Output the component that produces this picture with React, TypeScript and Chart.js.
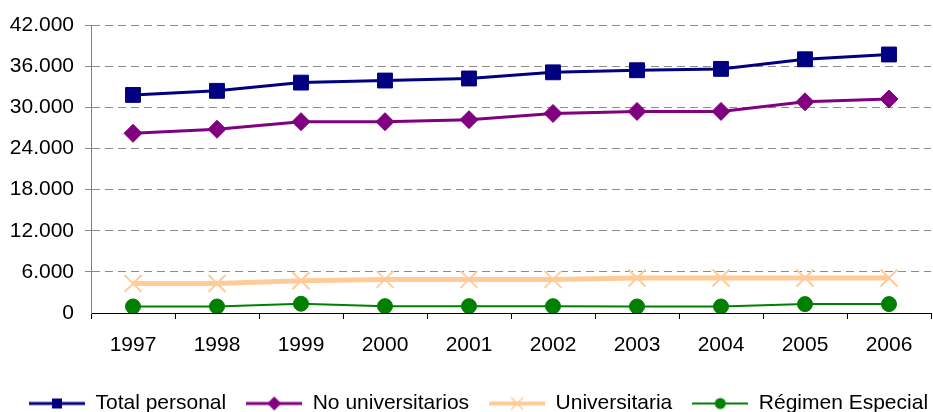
import React, { useEffect, useRef } from "react";
import { Chart, registerables } from "chart.js";

Chart.register(...registerables);

const years = ["1997", "1998", "1999", "2000", "2001", "2002", "2003", "2004", "2005", "2006"];
const totalPersonal = [31800, 32400, 33600, 33900, 34200, 35100, 35400, 35600, 37000, 37700];
const noUniversitarios = [26200, 26800, 27900, 27900, 28200, 29100, 29400, 29400, 30800, 31200];
const universitaria = [4300, 4300, 4700, 4900, 4900, 4900, 5100, 5100, 5100, 5100];
const regimenEspecial = [950, 950, 1350, 1000, 1000, 1000, 950, 950, 1300, 1300];
const yTickValues = [0, 6000, 12000, 18000, 24000, 30000, 36000, 42000];

const FONT = "'Liberation Sans', Arial, sans-serif";

function fmt(v: number): string {
  if (v === 0) return "0";
  const s = String(Math.round(v));
  return s.replace(/\B(?=(\d{3})+(?!\d))/g, ".");
}

function makeIcon(color: string, lw: number, kind: string): HTMLCanvasElement {
  const c = document.createElement("canvas");
  c.width = 56;
  c.height = 20;
  const ctx = c.getContext("2d")!;
  const cy = 10;
  const cx = 28;
  ctx.strokeStyle = color;
  ctx.fillStyle = color;
  ctx.lineWidth = lw;
  ctx.beginPath();
  ctx.moveTo(0, cy);
  ctx.lineTo(56, cy);
  ctx.stroke();
  ctx.beginPath();
  if (kind === "rect") {
    ctx.fillRect(cx - 5, cy - 5, 10, 10);
  } else if (kind === "diamond") {
    ctx.moveTo(cx, cy - 7);
    ctx.lineTo(cx + 7, cy);
    ctx.lineTo(cx, cy + 7);
    ctx.lineTo(cx - 7, cy);
    ctx.closePath();
    ctx.fill();
  } else if (kind === "x") {
    ctx.lineWidth = 1.5;
    ctx.moveTo(cx - 6, cy - 6);
    ctx.lineTo(cx + 6, cy + 6);
    ctx.moveTo(cx + 6, cy - 6);
    ctx.lineTo(cx - 6, cy + 6);
    ctx.stroke();
  } else {
    ctx.arc(cx, cy, 5.5, 0, Math.PI * 2);
    ctx.fill();
  }
  return c;
}

const legendShift = {
  id: "legendShift",
  afterLayout(chart: any) {
    const l = chart.legend;
    if (l) {
      l.left += 8;
      l.right += 8;
    }
  },
};

export default function App() {
  const ref = useRef<HTMLCanvasElement | null>(null);

  useEffect(() => {
    document.body.style.margin = "0";
    document.body.style.overflow = "hidden";
    const canvas = ref.current;
    if (!canvas) return;

    const icons = [
      makeIcon("#000080", 3, "rect"),
      makeIcon("#800080", 3, "diamond"),
      makeIcon("#FFCC99", 4, "x"),
      makeIcon("#008000", 2, "circle"),
    ];

    const chart = new Chart(canvas, {
      type: "line",
      data: {
        labels: years,
        datasets: [
          {
            label: "Total personal",
            data: totalPersonal,
            borderColor: "#000080",
            backgroundColor: "#000080",
            borderWidth: 3,
            pointStyle: "rect",
            pointRadius: 10.5,
            pointBorderWidth: 1,
            tension: 0,
          },
          {
            label: "No universitarios",
            data: noUniversitarios,
            borderColor: "#800080",
            backgroundColor: "#800080",
            borderWidth: 3,
            pointStyle: "rectRot",
            pointRadius: 9,
            pointBorderWidth: 1,
            tension: 0,
          },
          {
            label: "Universitaria",
            data: universitaria,
            borderColor: "#FFCC99",
            backgroundColor: "#FFCC99",
            borderWidth: 5,
            pointStyle: "crossRot",
            pointRadius: 12,
            pointBorderWidth: 2,
            tension: 0,
          },
          {
            label: "Régimen Especial",
            data: regimenEspecial,
            borderColor: "#008000",
            backgroundColor: "#008000",
            borderWidth: 2,
            pointStyle: "circle",
            pointRadius: 7.5,
            pointBorderWidth: 1,
            tension: 0,
          },
        ],
      },
      options: {
        responsive: false,
        animation: false,
        devicePixelRatio: 1,
        layout: { padding: { top: 25, left: 0, right: 4, bottom: -12 } },
        plugins: {
          tooltip: { enabled: false },
          legend: {
            position: "bottom",
            labels: {
              usePointStyle: true,
              pointStyleWidth: 56,
              padding: 20,
              color: "#000",
              font: { family: FONT, size: 21 },
              generateLabels: (ch: any) => {
                const items = (Chart.defaults.plugins.legend.labels as any).generateLabels(ch);
                items.forEach((it: any, i: number) => {
                  it.pointStyle = icons[i];
                });
                return items;
              },
            },
          },
        },
        scales: {
          x: {
            offset: true,
            grid: {
              offset: true,
              drawOnChartArea: false,
              drawTicks: true,
              tickLength: 6,
              color: "#000",
            },
            border: { color: "#000", width: 1 },
            ticks: {
              color: "#000",
              font: { family: FONT, size: 21 },
              padding: 14,
              maxRotation: 0,
            },
            afterFit: (s: any) => {
              s.height = 60;
            },
          },
          y: {
            min: 0,
            max: 42000,
            afterBuildTicks: (s: any) => {
              s.ticks = yTickValues.map((v) => ({ value: v }));
            },
            grid: {
              color: (ctx: any) => (ctx.tick && ctx.tick.value === 0 ? "rgba(0,0,0,0)" : "#8c8c8c"),
              tickLength: 6,
              lineWidth: 1,
            },
            border: { color: "#808080", width: 1, dash: [8, 5] },
            ticks: {
              color: "#000",
              font: { family: FONT, size: 21 },
              padding: 11,
              callback: (v: any) => fmt(Number(v)),
            },
            afterFit: (s: any) => {
              s.width = 91;
            },
          },
        },
      },
      plugins: [legendShift],
    });

    return () => chart.destroy();
  }, []);

  return (
    <div style={{ position: "fixed", left: 0, top: 0, width: 945, height: 412 }}>
      <canvas ref={ref} width={945} height={412} style={{ display: "block" }} />
    </div>
  );
}
